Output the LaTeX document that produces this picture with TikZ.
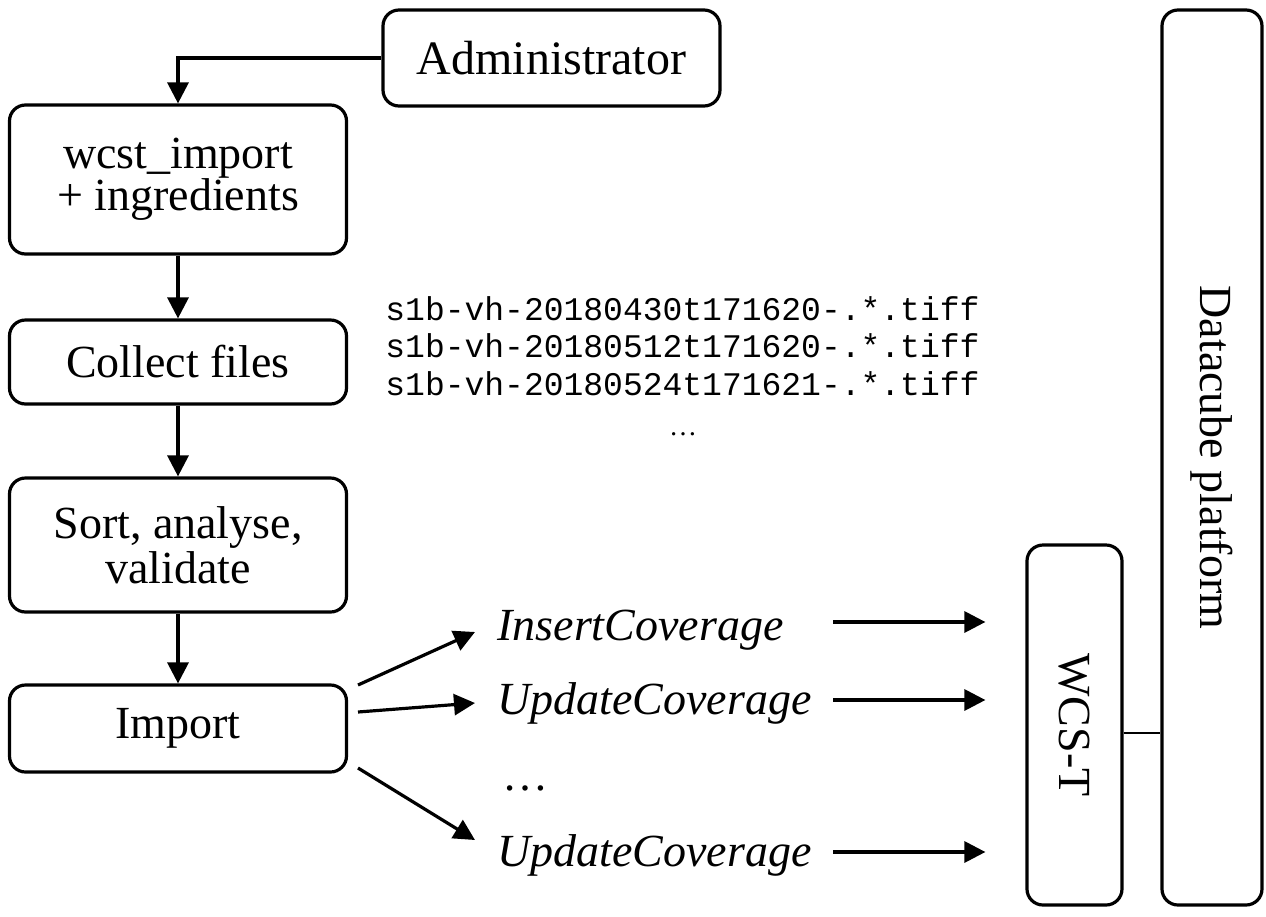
\documentclass[tikz,border=0pt]{standalone}
\usepackage{fontspec}
\setmainfont{Liberation Serif}
\setmonofont{Liberation Mono}
\usetikzlibrary{arrows.meta}
\begin{document}
\begin{tikzpicture}[x=0.5pt,y=-0.5pt,
  box/.style={draw,line width=1.6pt,rounded corners=8pt,inner sep=0pt,align=center,
    font=\fontsize{23}{21}\selectfont},
  arr/.style={line width=1.6pt,-{Triangle[length=10.5pt,width=10.5pt]}},
  lab/.style={anchor=base west,inner sep=0pt,font=\fontsize{23}{27}\selectfont\itshape},
  mono/.style={anchor=base west,inner sep=0pt,font=\fontsize{16.5}{19}\ttfamily}]
\useasboundingbox (0,0) rectangle (1266,917);
% boxes
\node[box,minimum width=168.5pt,minimum height=48pt,font=\fontsize{24}{27}\selectfont] (adm) at (551.5,58) {Administrator};
\node[box,minimum width=168.5pt,minimum height=74.5pt] (wcst) at (178,179.5) {wcst\_import\\+ ingredients};
\node[box,minimum width=168.5pt,minimum height=42pt] (col) at (178,362) {Collect files};
\node[box,minimum width=168.5pt,minimum height=67pt,font=\fontsize{23}{22.5}\selectfont] (sort) at (178,545) {Sort, analyse,\\validate};
\node[box,minimum width=168.5pt,minimum height=43.5pt] (imp) at (178,728.5) {Import};
\node[box,minimum width=47.5pt,minimum height=180pt] (wcs) at (1074.5,725) {};
\node[rotate=-90,font=\fontsize{23}{27}\selectfont] at (wcs.center) {WCS-T};
\node[box,minimum width=50pt,minimum height=447.5pt] (dc) at (1212,457.5) {};
\node[rotate=-90,font=\fontsize{23}{27}\selectfont] at (dc.center) {Datacube platform};
% file names
\node[mono] (f1) at (385,320) {s1b-vh-20180430t171620-.*.tiff};
\node[mono] (f2) at (385,357) {s1b-vh-20180512t171620-.*.tiff};
\node[mono] (f3) at (385,395) {s1b-vh-20180524t171621-.*.tiff};
\node[inner sep=0pt,font=\fontsize{14}{16}\selectfont] (fdots) at (683,434) {\dots};
% labels
\node[lab] (ins) at (497,640) {InsertCoverage};
\node[lab] (up1) at (497,714) {UpdateCoverage};
\node[lab,font=\fontsize{23}{27}\selectfont] (ldots) at (502,790) {\dots};
\node[lab] (up2) at (497,866) {UpdateCoverage};
% main flow
\draw[arr] (adm.west) -| (wcst.north);
\draw[arr] (wcst.south) -- (col.north);
\draw[arr] (col.south) -- (sort.north);
\draw[arr] (sort.south) -- (imp.north);
% import fan-out
\coordinate (s1) at (358,685);
\coordinate (s2) at (358,712);
\coordinate (s3) at (358,768);
\coordinate (e1) at (475,632);
\coordinate (e2) at (475,703);
\coordinate (e3) at (475,840);
\draw[arr] (s1) -- (e1);
\draw[arr] (s2) -- (e2);
\draw[arr] (s3) -- (e3);
% to WCS-T
\coordinate (r1) at (833,622);
\coordinate (r2) at (833,700);
\coordinate (r3) at (833,852);
\draw[arr,shorten >=20pt] (r1) -- (r1 -| wcs.west);
\draw[arr,shorten >=20pt] (r2) -- (r2 -| wcs.west);
\draw[arr,shorten >=20pt] (r3) -- (r3 -| wcs.west);
\draw[line width=1pt] (wcs.east |- 0,733) -- (dc.west |- 0,733);
\end{tikzpicture}
\end{document}
